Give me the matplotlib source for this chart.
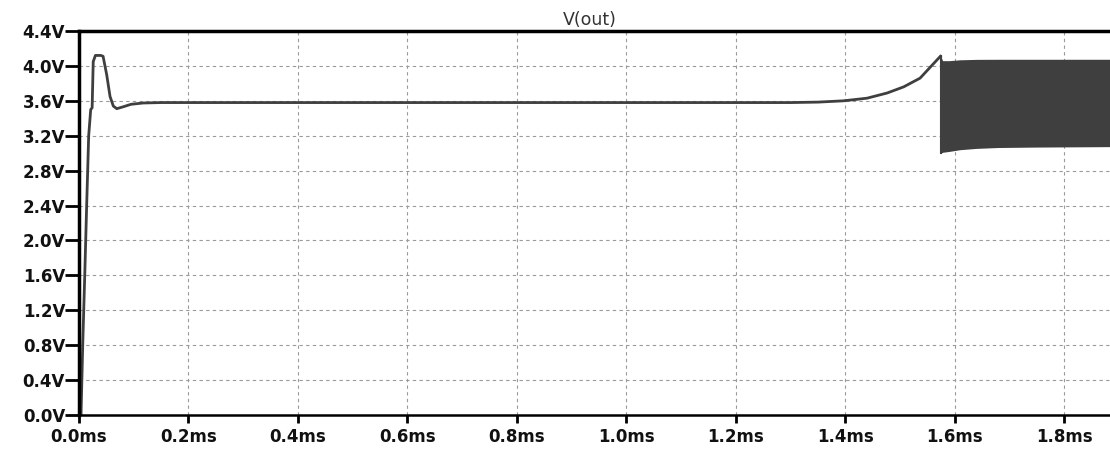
import numpy as np
import matplotlib.pyplot as plt

# transient trace V(out), time in ms
t_ms = [0.0, 0.0037, 0.0068, 0.0105, 0.014, 0.0177, 0.0214, 0.024, 0.026, 0.030,
        0.040, 0.044, 0.0506, 0.0567, 0.0627, 0.069, 0.080, 0.095, 0.117, 0.150,
        0.300, 0.600, 1.000, 1.300, 1.350, 1.397, 1.440, 1.477, 1.507, 1.537, 1.574]
v_out = [0.0, 0.0, 0.80, 1.60, 2.40, 3.20, 3.50, 3.52, 4.05, 4.12,
         4.12, 4.11, 3.90, 3.65, 3.54, 3.51, 3.53, 3.56, 3.575, 3.58,
         3.58, 3.58, 3.58, 3.58, 3.585, 3.60, 3.63, 3.69, 3.76, 3.86, 4.11]

# oscillation envelope after 1.574ms
band_t = [1.575, 1.578, 1.590, 1.610, 1.640, 1.680, 1.750, 1.884]
band_hi = [4.11, 4.06, 4.06, 4.07, 4.075, 4.076, 4.076, 4.076]
band_lo = [3.00, 3.01, 3.02, 3.04, 3.055, 3.065, 3.07, 3.075]

xticks = [0.0, 0.2, 0.4, 0.6, 0.8, 1.0, 1.2, 1.4, 1.6, 1.8]
yticks = [0.0, 0.4, 0.8, 1.2, 1.6, 2.0, 2.4, 2.8, 3.2, 3.6, 4.0, 4.4]

plt.rcParams['font.family'] = ['DejaVu Sans']
fig = plt.figure(figsize=(11.1, 4.51), dpi=100)
ax = fig.add_axes([79/1110, 1-415/451, 1-79/1110, (415-31)/451])

trace_col = '#3f3f3f'
ax.plot(t_ms, v_out, color=trace_col, lw=2.0, solid_joinstyle='round')
ax.fill_between(band_t, band_lo, band_hi, color=trace_col, lw=0)
ax.plot([band_t[0], band_t[0]], [band_lo[0], band_hi[0]], color=trace_col, lw=1.5)

ax.set_xlim(0, 1.884)
ax.set_ylim(0, 4.4)
ax.set_xticks(xticks)
ax.set_yticks(yticks)
ax.set_xticklabels(['%.1fms' % x for x in xticks], fontsize=12, fontweight='bold', color='#111111')
ax.set_yticklabels(['%.1fV' % y for y in yticks], fontsize=12, fontweight='bold', color='#111111')
ax.tick_params(axis='y', length=10, width=2, pad=0, direction='out')
ax.tick_params(axis='x', length=6, width=2, pad=3, direction='out')

ax.grid(True, color='#9a9a9a', lw=0.8, linestyle=(0, (3, 3)))
ax.set_axisbelow(True)

for s in ['left', 'top']:
    ax.spines[s].set_linewidth(2.5)
ax.spines['bottom'].set_linewidth(1.8)
ax.spines['right'].set_visible(False)

ax.set_title('V(out)', fontsize=12.5, color='#333333', pad=4, x=0.495)

fig.savefig('out.png', dpi=100)
